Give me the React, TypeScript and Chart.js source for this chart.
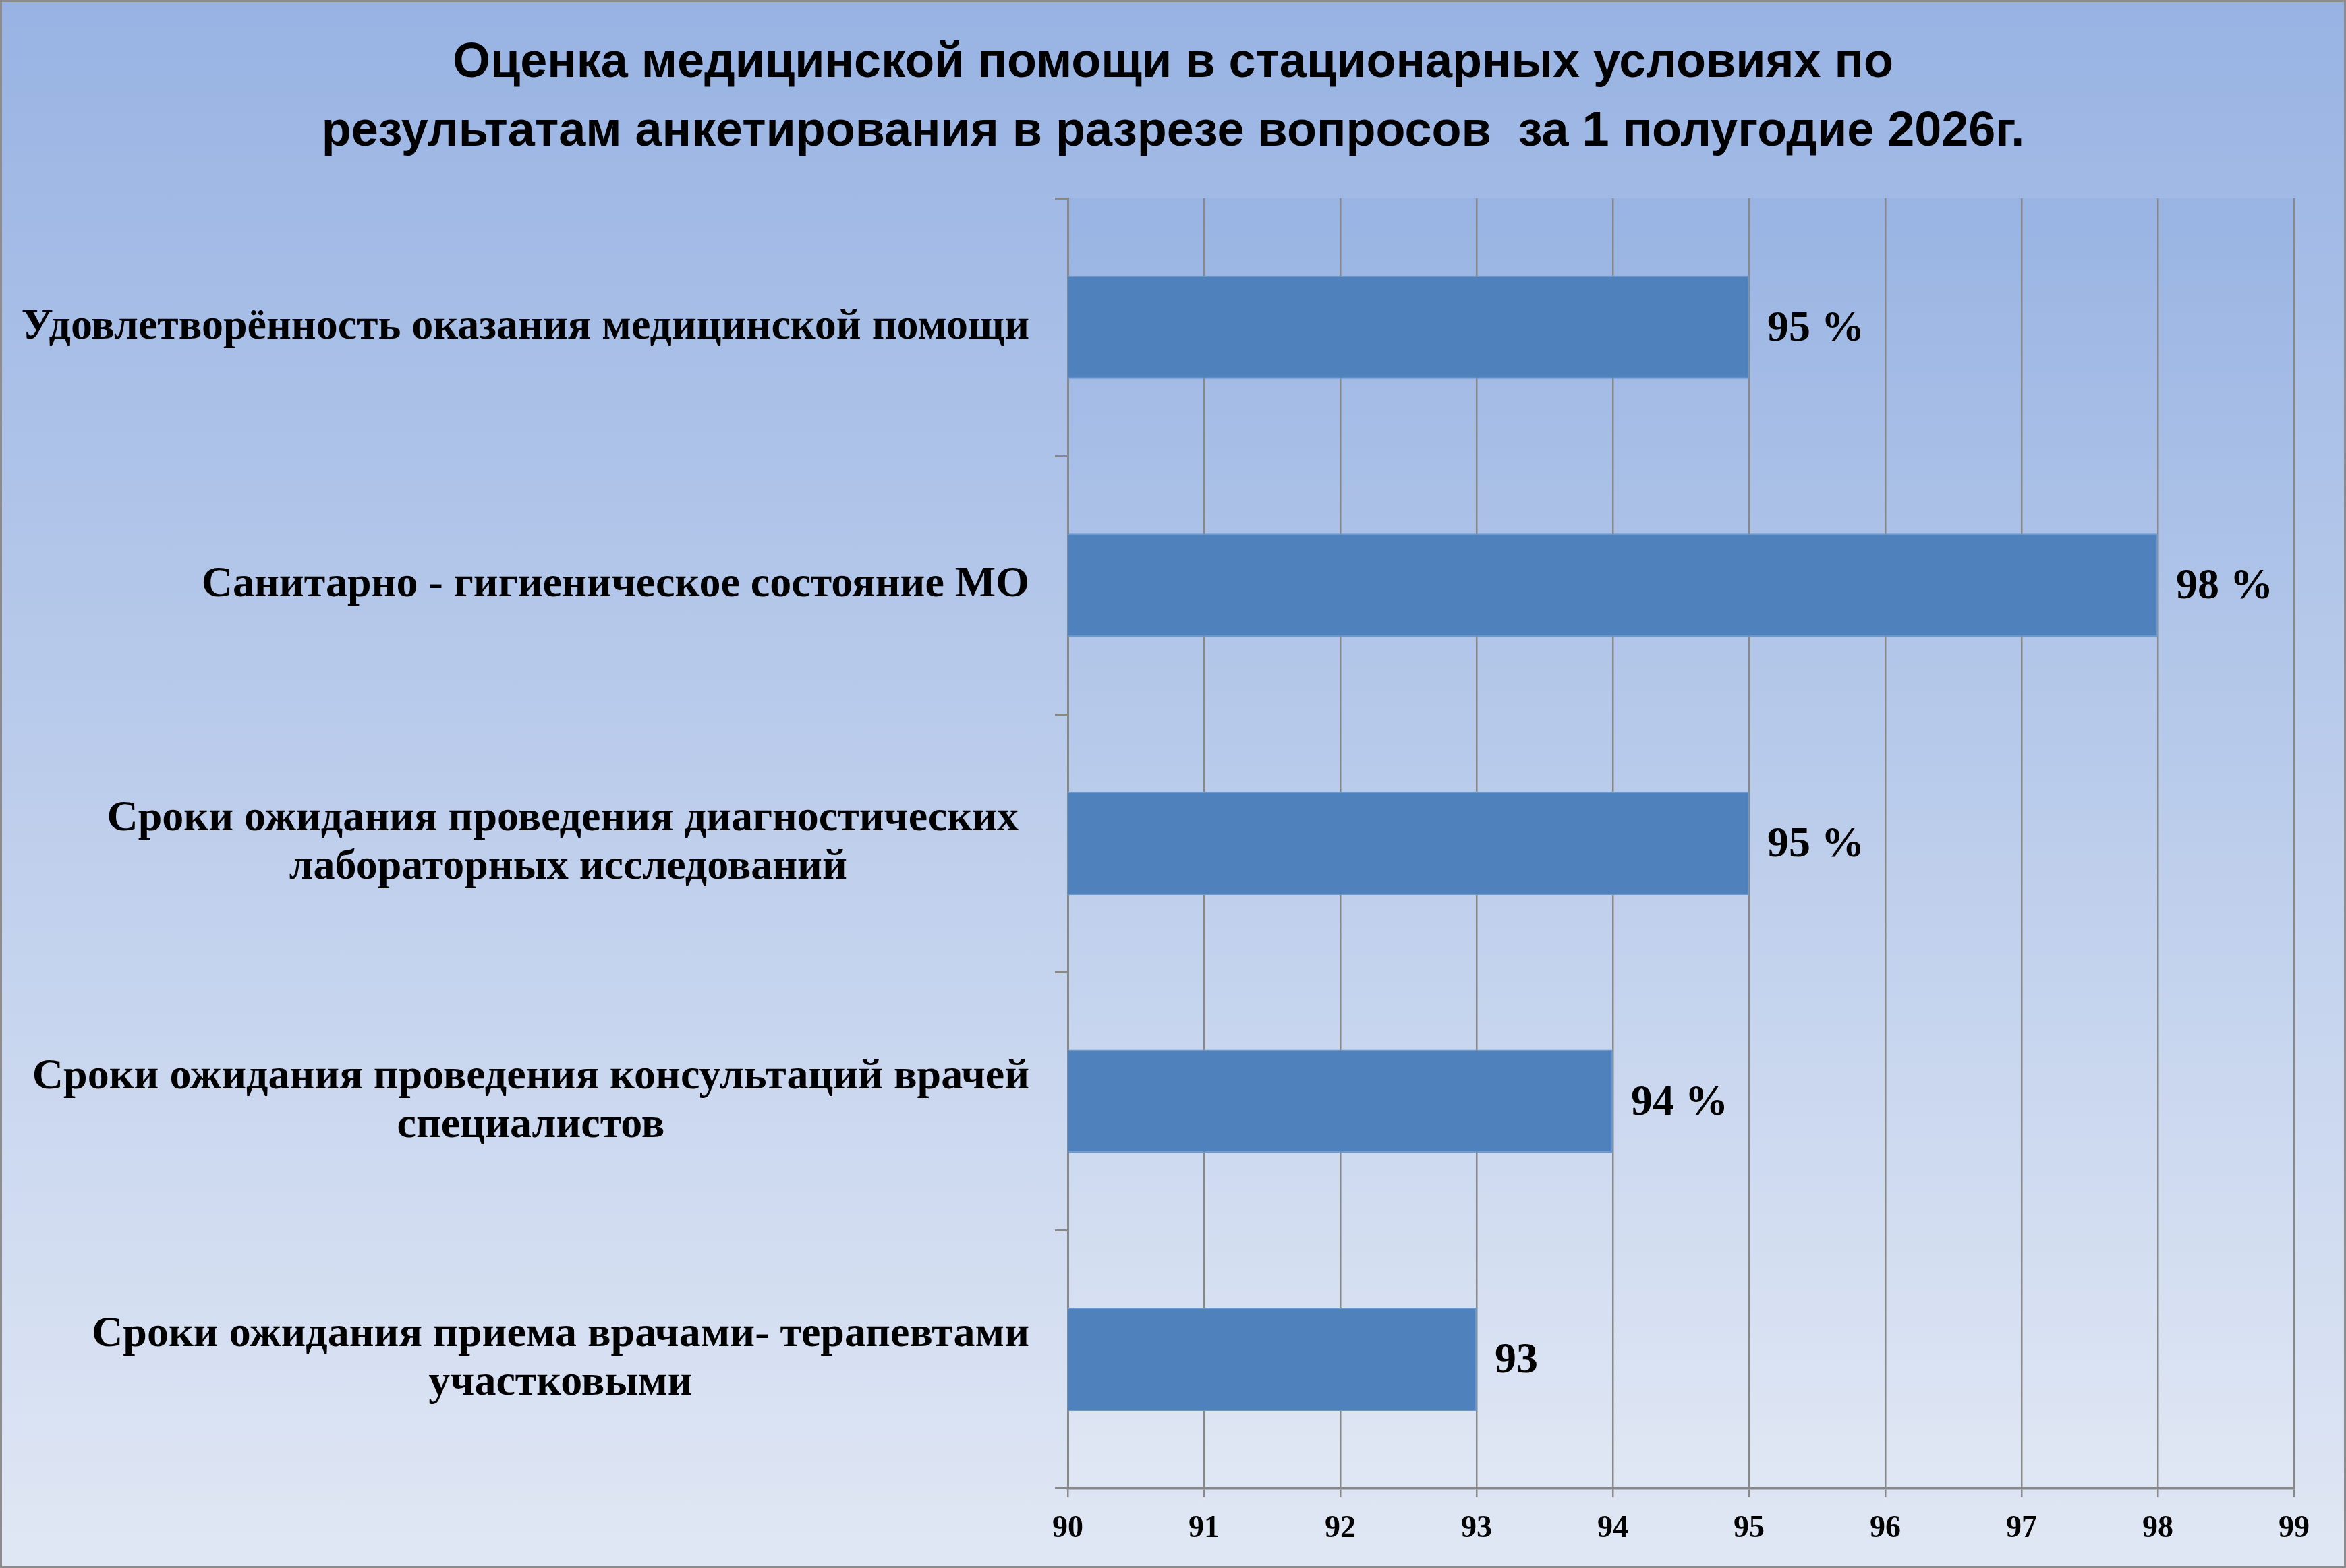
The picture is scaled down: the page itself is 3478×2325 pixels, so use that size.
import { useEffect, useRef } from "react"
import { Chart, registerables } from "chart.js"

Chart.register(...registerables)

const titleLines = [
  "Оценка медицинской помощи в стационарных условиях по",
  "результатам анкетирования в разрезе вопросов  за 1 полугодие 2026г.",
]

const categories = [
  ["Удовлетворённость оказания медицинской помощи"],
  ["Санитарно - гигиеническое состояние МО"],
  ["Сроки ожидания проведения диагностических ", "лабораторных исследований"],
  ["Сроки ожидания проведения консультаций врачей", "специалистов"],
  ["Сроки ожидания приема врачами- терапевтами", "участковыми"],
]

const values = [95, 98, 95, 94, 93]
const valueLabels = ["95 %", "98 %", "95 %", "94 %", "93"]
const xTickValues = [90, 91, 92, 93, 94, 95, 96, 97, 98, 99]

const SERIF = "'Liberation Serif', 'Times New Roman', serif"
const SANS = "'Liberation Sans', Arial, sans-serif"

// plot area fill
const plotBackground = {
  id: "plotBackground",
  beforeDraw(chart: any) {
    const { ctx, chartArea } = chart
    const g = ctx.createLinearGradient(0, chartArea.top, 0, chartArea.bottom)
    g.addColorStop(0, "#99b4e3")
    g.addColorStop(1, "#e0e7f4")
    ctx.save()
    ctx.fillStyle = g
    ctx.fillRect(chartArea.left, chartArea.top, chartArea.right - chartArea.left, chartArea.bottom - chartArea.top)
    ctx.restore()
  },
}

// category labels: each block right-aligned, lines centered inside the block
const categoryLabels = {
  id: "categoryLabels",
  afterDraw(chart: any) {
    const { ctx, chartArea } = chart
    const yScale = chart.scales.y
    ctx.save()
    ctx.font = `bold 64px ${SERIF}`
    ctx.fillStyle = "#000"
    ctx.textAlign = "center"
    ctx.textBaseline = "middle"
    categories.forEach((lines, i) => {
      const cy = yScale.getPixelForValue(i)
      const w = Math.max(...lines.map((l) => ctx.measureText(l).width))
      const cx = chartArea.left - 57 - w / 2
      const lh = 72
      lines.forEach((l, j) => {
        ctx.fillText(l, cx, cy + (j - (lines.length - 1) / 2) * lh)
      })
    })
    ctx.restore()
  },
}

const valueLabelPlugin = {
  id: "valueLabels",
  afterDatasetsDraw(chart: any) {
    const { ctx } = chart
    const meta = chart.getDatasetMeta(0)
    ctx.save()
    ctx.font = `bold 64px ${SERIF}`
    ctx.fillStyle = "#000"
    ctx.textAlign = "left"
    ctx.textBaseline = "middle"
    meta.data.forEach((bar: any, i: number) => {
      ctx.fillText(valueLabels[i], bar.x + 27, bar.y + 3)
    })
    ctx.restore()
  },
}

export default function App() {
  const chartRef = useRef<HTMLCanvasElement>(null)
  const chartInstance = useRef<Chart | null>(null)

  useEffect(() => {
    if (!chartRef.current) return
    if (chartInstance.current) chartInstance.current.destroy()
    const ctx = chartRef.current.getContext("2d")
    if (!ctx) return

    chartInstance.current = new Chart(ctx, {
      type: "bar",
      data: {
        labels: categories,
        datasets: [
          {
            data: values,
            backgroundColor: "#4f81bd",
            borderColor: "#6b97cc",
            borderWidth: 2,
            barPercentage: 0.4,
            categoryPercentage: 1,
          },
        ],
      },
      options: {
        indexAxis: "y",
        animation: false,
        responsive: true,
        maintainAspectRatio: false,
        layout: { padding: { top: 0, bottom: 7, left: 0, right: 0 } },
        scales: {
          x: {
            min: 90,
            max: 99,
            afterBuildTicks: (s: any) => {
              s.ticks = xTickValues.map((value) => ({ value }))
            },
            grid: { color: "#888888", lineWidth: 2.5, tickLength: 13 },
            border: { color: "#888888", width: 3.5 },
            ticks: {
              font: { family: SERIF, size: 46, weight: "bold" },
              color: "#000",
              padding: 20,
            },
          },
          y: {
            type: "category",
            offset: true,
            grid: { offset: true, drawOnChartArea: false, tickLength: 19, color: "#888888", lineWidth: 3 },
            border: { color: "#888888", width: 3 },
            ticks: { display: false },
            afterFit: (s: any) => {
              s.width = 1580
            },
          },
          yRight: {
            type: "category",
            position: "right",
            display: true,
            grid: { display: false },
            border: { display: false },
            ticks: { display: false },
            afterFit: (s: any) => {
              s.width = 74
            },
          },
        },
        plugins: {
          legend: { display: false },
          tooltip: { enabled: false },
          title: {
            display: true,
            text: titleLines,
            color: "#000",
            font: { family: SANS, size: 72, weight: "bold", lineHeight: 1.417 },
            padding: { top: 40, bottom: 47 },
          },
        },
      },
      plugins: [plotBackground, categoryLabels, valueLabelPlugin],
    } as any)

    return () => {
      if (chartInstance.current) {
        chartInstance.current.destroy()
        chartInstance.current = null
      }
    }
  }, [])

  return (
    <div
      style={{
        position: "fixed",
        left: 0,
        top: 0,
        width: "100vw",
        height: "100vh",
        boxSizing: "border-box",
        border: "3px solid #8c8c8c",
        background: "linear-gradient(to bottom, #98b3e3, #e0e7f4)",
      }}
    >
      <canvas ref={chartRef}></canvas>
    </div>
  )
}
